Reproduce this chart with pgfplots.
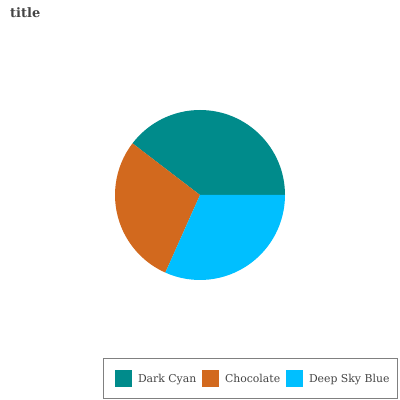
\documentclass[border=0pt]{standalone}
\usepackage{fontspec}
\setmainfont{DejaVu Serif}
\usepackage{pgfplots}
\pgfplotsset{compat=1.18}
\usepackage{pgfplotstable}

\definecolor{darkcyan}{HTML}{008B8B}
\definecolor{chocolate}{HTML}{D2691E}
\definecolor{deepskyblue}{HTML}{00BFFF}
\definecolor{txt}{HTML}{444444}

% slice values
\pgfplotstableread{
label value
DarkCyan 40
Chocolate 29
DeepSkyBlue 32
}\piedata

\pgfplotstablegetelem{0}{value}\of\piedata \let\va\pgfplotsretval
\pgfplotstablegetelem{1}{value}\of\piedata \let\vb\pgfplotsretval
\pgfplotstablegetelem{2}{value}\of\piedata \let\vc\pgfplotsretval
\pgfmathsetmacro\tot{\va+\vb+\vc}
\pgfmathsetmacro\angA{360*\va/\tot}
\pgfmathsetmacro\angB{\angA+360*\vb/\tot}

\newcommand\slice[3]{%
  \fill[#3] (axis cs:200,205) -- ([shift={(#1:85bp)}]axis cs:200,205)
    arc[start angle=#1, end angle=#2, radius=85bp] -- cycle;}
% legend key: coloured square + label in a fixed-width box
\newcommand\key[3]{\makebox[#1][l]{\textcolor{#2}{\rule[-4.7bp]{17bp}{17bp}}\hspace{6bp}#3}}

\begin{document}
\begin{tikzpicture}
\begin{axis}[
    scale only axis,
    width=400bp, height=400bp,
    xmin=0, xmax=400, ymin=0, ymax=400,
    hide axis,
    clip=false,
    title={title},
    title style={at={(0.025,0.9425)}, anchor=base west, inner sep=0pt,
        font=\bfseries\fontsize{13}{15}\selectfont, text=txt},
]
\slice{0}{\angA}{darkcyan}
\slice{\angA}{\angB}{chocolate}
\slice{\angB}{360}{deepskyblue}
\node[draw=gray, line width=0.8pt, anchor=south west, text=txt,
      inner xsep=11.6bp, inner ysep=11.4bp,
      font=\fontsize{10.9}{12}\selectfont]
  at (rel axis cs:0.2575,0.0025)
  {\key{87bp}{darkcyan}{Dark Cyan}\key{84bp}{chocolate}{Chocolate}\key{100bp}{deepskyblue}{Deep Sky Blue}};
\end{axis}
\pgfresetboundingbox
\path (0,0) rectangle (400bp,400bp);
\end{tikzpicture}
\end{document}
